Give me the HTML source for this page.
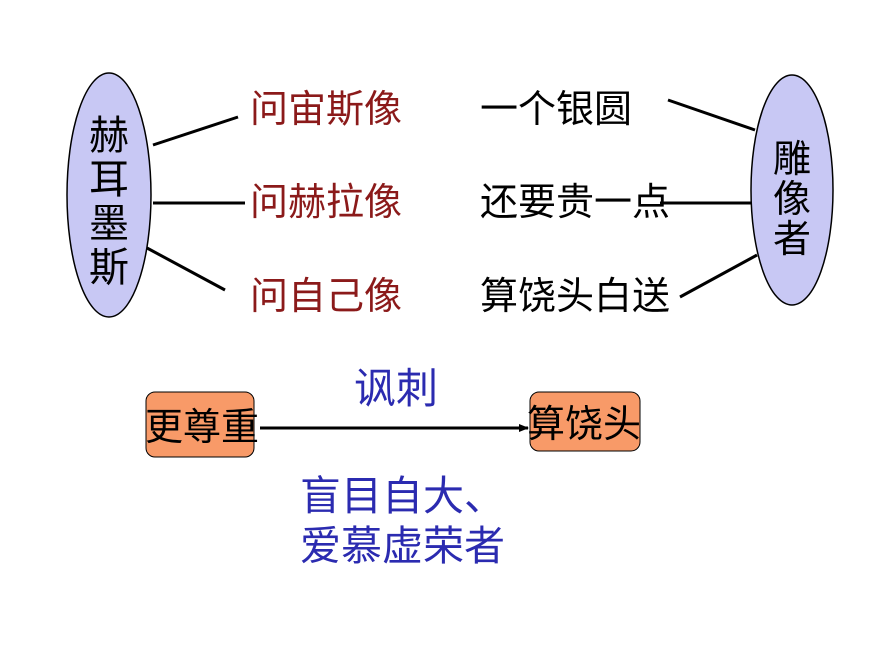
<!DOCTYPE html>
<html><head><meta charset="utf-8"><style>
body{margin:0;width:870px;height:653px;background:#fff;overflow:hidden;position:relative;font-family:"Liberation Sans","Noto Sans CJK SC",sans-serif}
.t{position:absolute;white-space:nowrap;line-height:1}
.r{color:#8B1A1A;font-size:38px}
.k{color:#000;font-size:38px}
.b{color:#2B2BB0}
</style></head><body>
<svg width="870" height="653" style="position:absolute;left:0;top:0">
<defs><marker id="a" markerWidth="10" markerHeight="10" refX="9" refY="5" orient="auto" markerUnits="userSpaceOnUse"><path d="M0,1 L10,5 L0,9 z" fill="#000"/></marker></defs>
<ellipse cx="109" cy="195" rx="42" ry="122" fill="#C8C8F4" stroke="#000" stroke-width="1.5"/>
<ellipse cx="792" cy="190" rx="41" ry="115" fill="#C8C8F4" stroke="#000" stroke-width="1.5"/>
<g stroke="#000" stroke-width="3">
<line x1="153" y1="145" x2="238" y2="117"/>
<line x1="153" y1="203" x2="245" y2="203"/>
<line x1="147" y1="248" x2="225" y2="290"/>
<line x1="668" y1="100" x2="755" y2="130"/>
<line x1="660" y1="203" x2="751" y2="203"/>
<line x1="680" y1="297" x2="757" y2="255"/>
<line x1="260" y1="428" x2="528" y2="428" marker-end="url(#a)"/>
</g>
<rect x="146" y="392" width="108" height="65" rx="9" fill="#F89A68" stroke="#000" stroke-width="1"/>
<rect x="530" y="392" width="110" height="59" rx="9" fill="#F89A68" stroke="#000" stroke-width="1"/>
</svg>
<div class="t" style="left:89px;top:114px;font-size:40px;line-height:44px;width:40px">赫<br>耳<br>墨<br>斯</div>
<div class="t" style="left:773px;top:140px;font-size:38px;line-height:40px;width:38px">雕<br>像<br>者</div>
<div class="t r" style="left:250px;top:91px">问宙斯像</div>
<div class="t r" style="left:250px;top:184px">问赫拉像</div>
<div class="t r" style="left:250px;top:278px">问自己像</div>
<div class="t k" style="left:480px;top:91px">一个银圆</div>
<div class="t k" style="left:480px;top:184px">还要贵一点</div>
<div class="t k" style="left:480px;top:278px">算饶头白送</div>
<div class="t b" style="left:354px;top:368px;font-size:42px">讽刺</div>
<div class="t k" style="left:145px;top:409px">更尊重</div>
<div class="t k" style="left:527px;top:406px">算饶头</div>
<div class="t b" style="left:300px;top:476px;font-size:41px">盲目自大、</div>
<div class="t b" style="left:300px;top:526px;font-size:41px">爱慕虚荣者</div>
</body></html>
